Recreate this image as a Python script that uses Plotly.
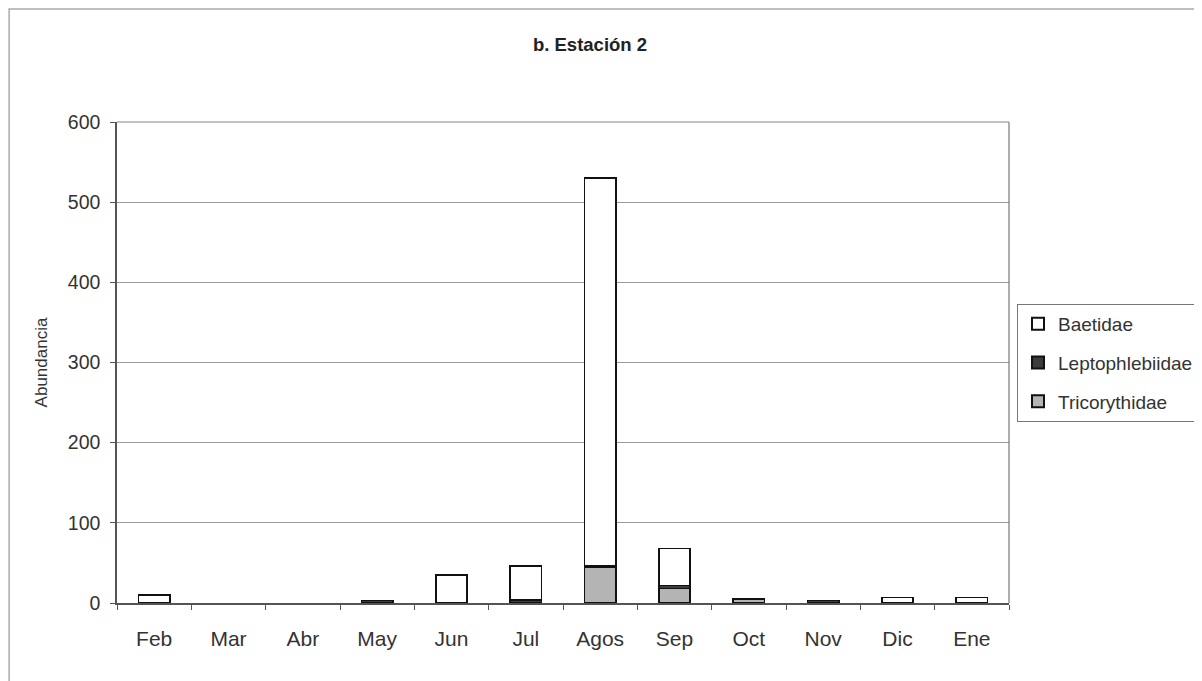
import plotly.graph_objects as go

months = ["Feb", "Mar", "Abr", "May", "Jun", "Jul", "Agos", "Sep", "Oct", "Nov", "Dic", "Ene"]
tricorythidae = [0, 0, 0, 0, 0, 0, 45, 18, 5, 0, 0, 0]
leptophlebiidae = [0, 0, 0, 3, 0, 4, 1, 4, 0, 3, 0, 0]
baetidae = [10, 0, 0, 0, 35, 42, 484, 46, 0, 0, 7, 7]
y_ticks = [0, 100, 200, 300, 400, 500, 600]

OFF = 8  # page body offset
L, R, T, B = 117 - OFF, 1010 - OFF, 122 - OFF, 603 - OFF
W, H = 1202, 681
pw, ph = R - L, B - T


def nz(vals):
    return [v if v else None for v in vals]


fig = go.Figure()
line = dict(color="#111111", width=1.6)
fig.add_trace(go.Bar(x=months, y=nz(tricorythidae), name="Tricorythidae",
                     marker=dict(color="#b4b4b4", line=line), legendrank=3, legendgroup="t"))
fig.add_trace(go.Bar(x=months, y=nz(leptophlebiidae), name="Leptophlebiidae",
                     marker=dict(color="#3c3c3c", line=line), legendrank=2, legendgroup="l"))
fig.add_trace(go.Bar(x=months, y=nz(baetidae), name="Baetidae",
                     marker=dict(color="#ffffff", line=line), legendrank=1, legendgroup="b"))


def px_x(p):
    return (p - OFF - L) / pw


def px_y(p):
    return (B - (p - OFF)) / ph


fig.update_layout(
    width=W, height=H,
    margin=dict(l=L, r=W - R, t=T, b=H - B),
    barmode="stack", bargap=0.58,
    paper_bgcolor="white", plot_bgcolor="white",
    font=dict(family="Liberation Sans, Arial, sans-serif", color="#333333"),
    title=dict(text="<b>b. Estación 2</b>", x=(590 - OFF) / W, xanchor="center",
               y=1 - (45 - OFF) / H, yanchor="middle", font=dict(size=18.5, color="#222222")),
    xaxis=dict(type="category", tickson="boundaries", ticks="outside", ticklen=5,
               tickcolor="#555555", showline=True, linecolor="#555555", linewidth=1.5,
               tickfont=dict(size=21, color="#333333"), showgrid=False,
               ticklabelstandoff=16),
    yaxis=dict(range=[0, 600], tickvals=y_ticks, ticks="outside", ticklen=5,
               tickcolor="#555555", showline=True, linecolor="#555555", linewidth=1.5,
               showgrid=True, gridcolor="#9a9a9a", gridwidth=1,
               tickfont=dict(size=19.5, color="#333333"), ticklabelstandoff=6,
               title=dict(text="Abundancia", font=dict(size=17, color="#333333"), standoff=16),
               zeroline=False),
    legend=dict(x=px_x(1017), xanchor="left", y=px_y(363), yanchor="middle",
                traceorder="grouped", tracegroupgap=11, itemsizing="constant",
                bordercolor="#777777", borderwidth=1, bgcolor="white",
                font=dict(size=19, color="#333333"), itemwidth=30),
    showlegend=True,
)

# plot area right and top border
fig.add_shape(type="line", xref="paper", yref="paper", x0=1, x1=1, y0=0, y1=1,
              line=dict(color="#777777", width=1.2))
fig.add_shape(type="line", xref="paper", yref="paper", x0=0, x1=1, y0=1, y1=1,
              line=dict(color="#888888", width=1.2))
# outer chart border (left & top visible)
fig.add_shape(type="rect", xref="paper", yref="paper",
              x0=px_x(9), x1=px_x(1225), y0=px_y(710), y1=px_y(9),
              line=dict(color="#aaaaaa", width=1.5), layer="below")

fig.write_html("out.html")
